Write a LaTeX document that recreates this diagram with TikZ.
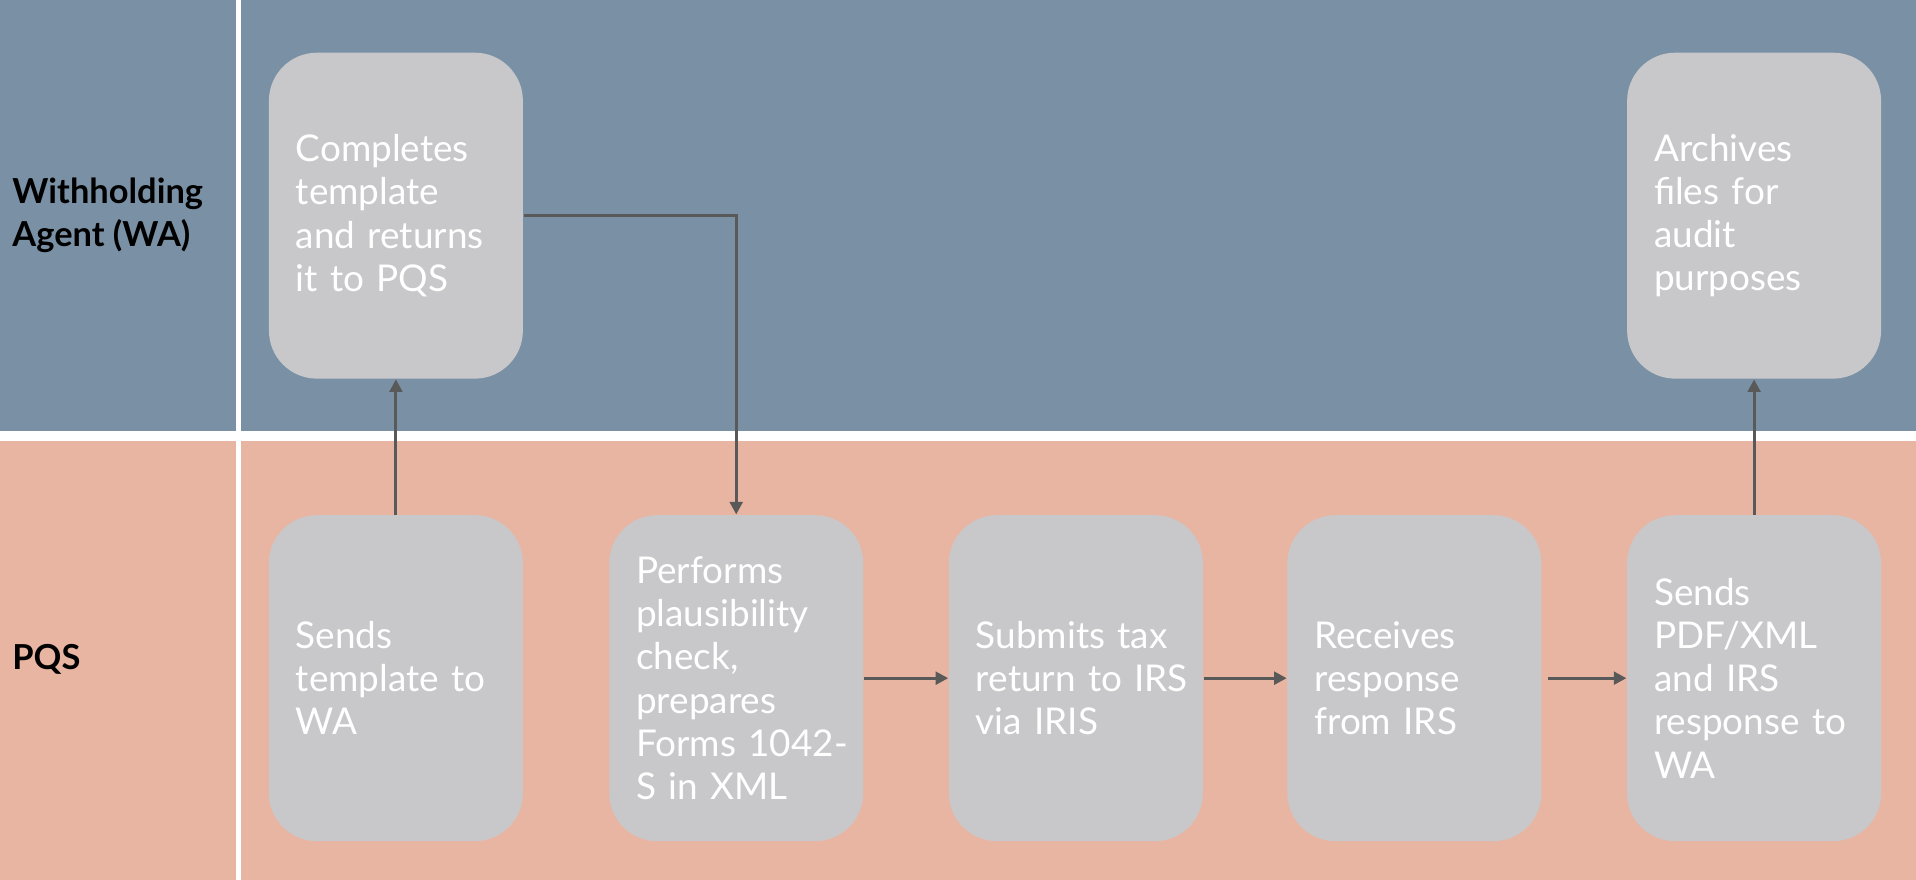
\documentclass[tikz,border=0pt]{standalone}
\usepackage{fontspec}
\setmainfont{Lato}
\usetikzlibrary{arrows.meta}
\definecolor{waback}{RGB}{122,145,165}
\definecolor{pqsback}{RGB}{232,181,163}
\definecolor{boxgray}{RGB}{200,200,202}
\definecolor{flowgray}{RGB}{89,89,89}

\begin{document}
\begin{tikzpicture}[x=0.012219cm, y=-0.012219cm,
  taskbox/.style={rectangle, rounded corners=0.48cm, fill=boxgray, text=white,
    text width=2.0cm, inner xsep=0.27cm, minimum height=3.26cm, align=left,
    font=\fontsize{10.5}{12.3}\selectfont},
  lanelabel/.style={anchor=west, align=left, font=\fontsize{9.8}{12.3}\selectfont\bfseries},
  flow/.style={draw=flowgray, line width=0.9pt, -{Triangle[length=3.6pt,width=3.6pt]}}]
\useasboundingbox (0,0) rectangle (1568,720);
% Lanes
\fill[waback] (0,0) rectangle (193,353);
\fill[waback] (197,0) rectangle (1568,353);
\fill[pqsback] (0,361) rectangle (193,720);
\fill[pqsback] (197,361) rectangle (1568,720);
\node[lanelabel] (wa) at (0,176) {Withholding\\Agent (WA)};
\node[lanelabel] (pqs) at (0,540) {PQS};
% Withholding Agent tasks
\node[taskbox] (complete) at (324,176.5) {Completes\\template\\and returns\\it to PQS};
\node[taskbox] (archive) at (1435.5,176.5) {Archives\\files for\\audit\\purposes};
% PQS tasks
\node[taskbox] (sendtpl) at (324,555) {Sends\\template to\\WA};
\node[taskbox] (check) at (602.5,555) {Performs\\plausibility\\check,\\prepares\\\mbox{Forms 1042-}\\S in XML};
\node[taskbox] (submit) at (880.5,555) {Submits tax\\\mbox{return to IRS}\\via IRIS};
\node[taskbox] (receive) at (1157.5,555) {Receives\\response\\from IRS};
\node[taskbox] (sendback) at (1435.5,555) {Sends\\PDF/XML\\and IRS\\response~to\\WA};
% Flow
\draw[flow] (sendtpl.north) -- (complete.south);
\draw[flow] (complete.east) -| (check.north);
\draw[flow] (check.east) -- (submit.west);
\draw[flow] (submit.east) -- (receive.west);
\draw[flow, shorten <=0.06cm] (receive.east) -- (sendback.west);
\draw[flow] (sendback.north) -- (archive.south);
\end{tikzpicture}
\end{document}
